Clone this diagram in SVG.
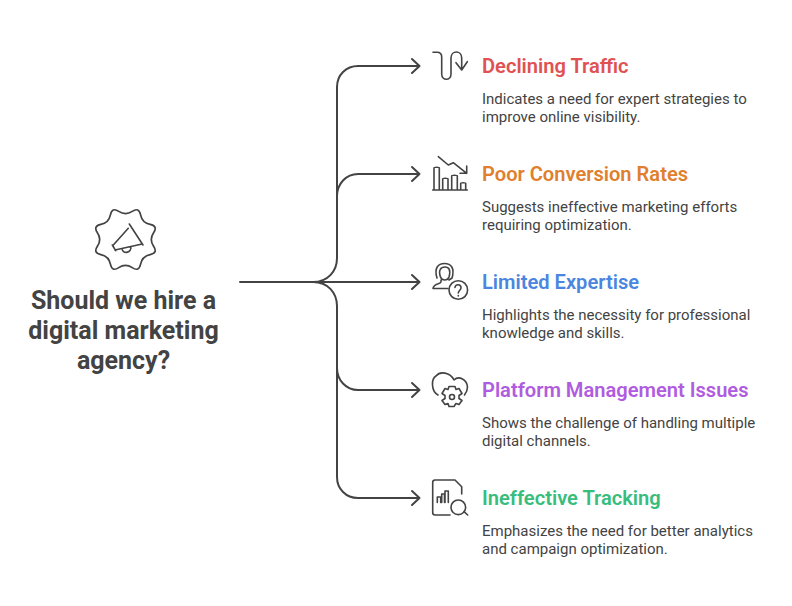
<svg xmlns="http://www.w3.org/2000/svg" width="792" height="606" viewBox="0 0 792 606">
<style>
text{font-family:Roboto,"Liberation Sans",sans-serif}
.t{font-size:25px;font-weight:700;fill:#434343;text-anchor:middle}
.h{font-size:20.100px;font-weight:600}
.d{font-size:15px;fill:#434343}
.c{fill:none;stroke:#434343;stroke-width:2;stroke-linecap:round;stroke-linejoin:round}
.i{fill:none;stroke:#434343;stroke-width:1.600;stroke-linecap:round;stroke-linejoin:round}
</style>
<rect width="792" height="606" fill="#fff"/>
<g id="connectors" class="c">
<path d="M240 282H419.500M412 275l7.500 7-7.500 7"/>
<path d="M313 282C328 282 337 271 337 258V87C337 75 346 66 358 66H419.500M412 59l7.500 7-7.500 7"/>
<path d="M337 196C337 184 346 174 358 174H419.500M412 167l7.500 7-7.500 7"/>
<path d="M313 282C328 282 337 293 337 306V477C337 489 346 498 358 498H419.500M412 491l7.500 7-7.500 7"/>
<path d="M337 368C337 380 346 390 358 390H419.500M412 383l7.500 7-7.500 7"/>
</g>
<g id="root">
<path class="i" transform="translate(125.500 239.500) scale(1.070) translate(-125.500 -239.500)" d="M131.800 213.250Q138.100 209 139.600 216.450Q141.100 223.900 148.550 225.400Q156 226.900 151.750 233.200Q147.500 239.500 151.750 245.800Q156 252.100 148.550 253.600Q141.100 255.100 139.600 262.550Q138.100 270 131.800 265.750Q125.500 261.500 119.200 265.750Q112.900 270 111.400 262.550Q109.900 255.100 102.450 253.600Q95 252.100 99.250 245.800Q103.500 239.500 99.250 233.200Q95 226.900 102.450 225.400Q109.900 223.900 111.400 216.450Q112.900 209 119.200 213.250Q125.500 217.500 131.800 213.250Z"/>
<path class="i" d="M129.300 224L143 245M128.300 228.300L113.300 245M141 244.300L115 250M112.300 245L115.700 250.700M122 248.500C122.500 254 131 254 131 246.500"/>
<text class="t" x="123.500" y="309">Should we hire a</text>
<text class="t" x="123.500" y="339">digital marketing</text>
<text class="t" x="123.500" y="369">agency?</text>
</g>
<g id="n1">
<path class="i" d="M433 52.300H437C440 52.300 441.700 54 441.700 57V74C441.700 81 451 81 451 74V58C451 50 461.700 50 461.700 58V70M456 62.700L461.700 70L467.300 61.700"/>
<text class="h" x="482" y="73" fill="#e05252">Declining Traffic</text>
<text class="d" x="482" y="104">Indicates a need for expert strategies to</text>
<text class="d" x="482" y="122">improve online visibility.</text>
</g>
<g id="n2">
<path class="i" d="M438.300 156.700L448.300 165L453.300 162.700L466.700 173.300M460 173.300H466.700V166M432.700 190H467.300M434 190V168C434 167 439.300 167 439.300 168V190M442.700 190V179C442.700 178 448 178 448 179V190M451.700 190V176C451.700 175 457.300 175 457.300 176V190M460.700 190V183.500C460.700 182.500 465.700 182.500 465.700 183.500V190"/>
<text class="h" x="482" y="181" fill="#e07f2e">Poor Conversion Rates</text>
<text class="d" x="482" y="212">Suggests ineffective marketing efforts</text>
<text class="d" x="482" y="230">requiring optimization.</text>
</g>
<g id="n3">
<path class="i" d="M437 278C434 268 438 263.500 444.500 263.500C451 263.500 455 268 452 278L449 280M440.500 277C438 270 441 267 445 267C449 267 451 270 449 277C447.500 281 442 281 440.500 277ZM441 280V282C441 284 433 283.500 433 288.500H448"/>
<circle class="i" cx="458.300" cy="290" r="9.300"/>
<path class="i" d="M455 287.500C455 283.500 461.500 284 461 288C461 290 458.300 290.500 458.300 293M458.300 295.500V296"/>
<text class="h" x="482" y="289" fill="#4a86e0">Limited Expertise</text>
<text class="d" x="482" y="320">Highlights the necessity for professional</text>
<text class="d" x="482" y="338">knowledge and skills.</text>
</g>
<g id="n4">
<path class="i" d="M438 395C431 391 431 379 436 376C440 371 450 372 454 380C459 375 467 380 467.500 387C467.500 391 466 393 464.500 395"/>
<g transform="translate(0 -2.500)">
<path class="i" d="M449 389H455L456 392L459 391L462 396L459 398V401L462 403L459 407L456 406L454 409H449L448 406L445 407L442 403L445 401V398L442 396L445 391L448 392Z"/>
<circle class="i" cx="452" cy="399.500" r="2.500"/>
</g>
<text class="h" x="482" y="397" fill="#b05ce0">Platform Management Issues</text>
<text class="d" x="482" y="428">Shows the challenge of handling multiple</text>
<text class="d" x="482" y="446">digital channels.</text>
</g>
<g id="n5">
<path class="i" d="M455 480H435C433.500 480 432.700 481 432.700 482.500V512.500C432.700 514 433.500 515 435 515H450M455 480L461.700 486.700V494"/>
<path class="i" d="M437.300 502.500V497H440.700V502.500M441.700 502.500V494H444.500V502.500M445 502.500V491H448.300V502.500"/>
<circle class="i" cx="458.300" cy="507.300" r="7.300"/>
<path class="i" d="M464 511.700L467.700 515"/>
<text class="h" x="482" y="505" fill="#38bd7c">Ineffective Tracking</text>
<text class="d" x="482" y="536">Emphasizes the need for better analytics</text>
<text class="d" x="482" y="554">and campaign optimization.</text>
</g>
</svg>
